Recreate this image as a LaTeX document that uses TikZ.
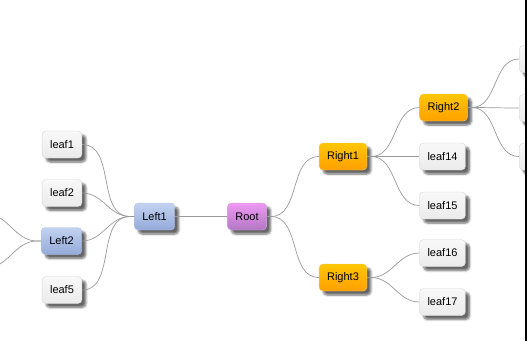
\documentclass[tikz,border=0pt]{standalone}
\usepackage{fontspec}
\setmainfont{Liberation Sans}
\usepackage{xcolor}
\usepackage{tikz}
\usetikzlibrary{shadows.blur, positioning}
\definecolor{leaftop}{HTML}{F8F8F8}
\definecolor{leafbottom}{HTML}{EBEBEB}
\definecolor{leafline}{HTML}{D6D6D6}
\definecolor{lefttop}{HTML}{C2D2F0}
\definecolor{leftbottom}{HTML}{94AADA}
\definecolor{leftline}{HTML}{B4C4E6}
\definecolor{roottop}{HTML}{EE98F2}
\definecolor{rootbottom}{HTML}{B278C4}
\definecolor{rootline}{HTML}{D8A8E0}
\definecolor{righttop}{HTML}{FFC600}
\definecolor{rightbottom}{HTML}{FFA000}
\definecolor{rightline}{HTML}{F2C870}
\definecolor{branchgray}{HTML}{9A9A9A}

\begin{document}
\begin{tikzpicture}[x=1pt, y=-1pt,
    mapnode/.style={draw, rounded corners=4pt, minimum height=27pt, inner xsep=8pt,
        font=\fontsize{11}{13}\selectfont, text=black,
        blur shadow={shadow xshift=4pt, shadow yshift=-4pt, shadow opacity=60, shadow blur steps=6}},
    leaf/.style={mapnode, draw=leafline, top color=leaftop, bottom color=leafbottom},
    leftnode/.style={mapnode, draw=leftline, top color=lefttop, bottom color=leftbottom},
    rootnode/.style={mapnode, draw=rootline, top color=roottop, bottom color=rootbottom},
    rightnode/.style={mapnode, draw=rightline, top color=righttop, bottom color=rightbottom},
    branch/.style={draw=branchgray, line width=0.7pt}
]
    \useasboundingbox (0,0) rectangle (529,341);
    \begin{scope}
    \clip (0,0) rectangle (525,341);

    % centre and left side
    \node[rootnode] (root) at (247,216.5) {Root};
    \node[leftnode] (left1) at (154.5,216.5) {Left1};
    \node[leaf] (leaf1) at (62,144.5) {leaf1};
    \node[leaf] (leaf2) at (62,193) {leaf2};
    \node[leftnode] (left2) at (61.5,241) {Left2};
    \node[leaf] (leaf5) at (62,290) {leaf5};
    \coordinate (leaf3) at (-14,214);
    \coordinate (leaf4) at (-14,268);

    % right side
    \node[rightnode] (right1) at (343,156.5) {Right1};
    \node[rightnode] (right3) at (343,277.5) {Right3};
    \node[rightnode] (right2) at (443.5,107.5) {Right2};
    \node[leaf] (leaf14) at (442.5,156.5) {leaf14};
    \node[leaf] (leaf15) at (442.5,205.5) {leaf15};
    \node[leaf] (leaf16) at (442.5,253) {leaf16};
    \node[leaf] (leaf17) at (442.5,302) {leaf17};
    \node[leaf, anchor=west, minimum width=40pt] (leaf11) at (519,59) {};
    \node[leaf, anchor=west, minimum width=40pt] (leaf12) at (519,108) {};
    \node[leaf, anchor=west, minimum width=40pt] (leaf13) at (519,156.5) {};

    % branches
    \draw[branch] (root.west) -- (left1.east);
    \foreach \kid in {leaf1, leaf2, left2, leaf5}
        \draw[branch] (left1.west) -- ++(-4,0) to[out=180, in=0] (\kid.east);
    \foreach \kid in {leaf3, leaf4}
        \draw[branch] (left2.west) -- ++(-4,0) to[out=180, in=0] (\kid);
    \foreach \kid in {right1, right3}
        \draw[branch] (root.east) -- ++(4,0) to[out=0, in=180] (\kid.west);
    \foreach \kid in {right2, leaf14, leaf15}
        \draw[branch] (right1.east) -- ++(4,0) to[out=0, in=180] (\kid.west);
    \foreach \kid in {leaf16, leaf17}
        \draw[branch] (right3.east) -- ++(4,0) to[out=0, in=180] (\kid.west);
    \foreach \kid in {leaf11, leaf12, leaf13}
        \draw[branch] (right2.east) -- ++(4,0) to[out=0, in=180] (\kid.west);
    \end{scope}

    % window edge
    \draw[line width=1.5pt] (525.75,0) -- (525.75,341);
\end{tikzpicture}
\end{document}
